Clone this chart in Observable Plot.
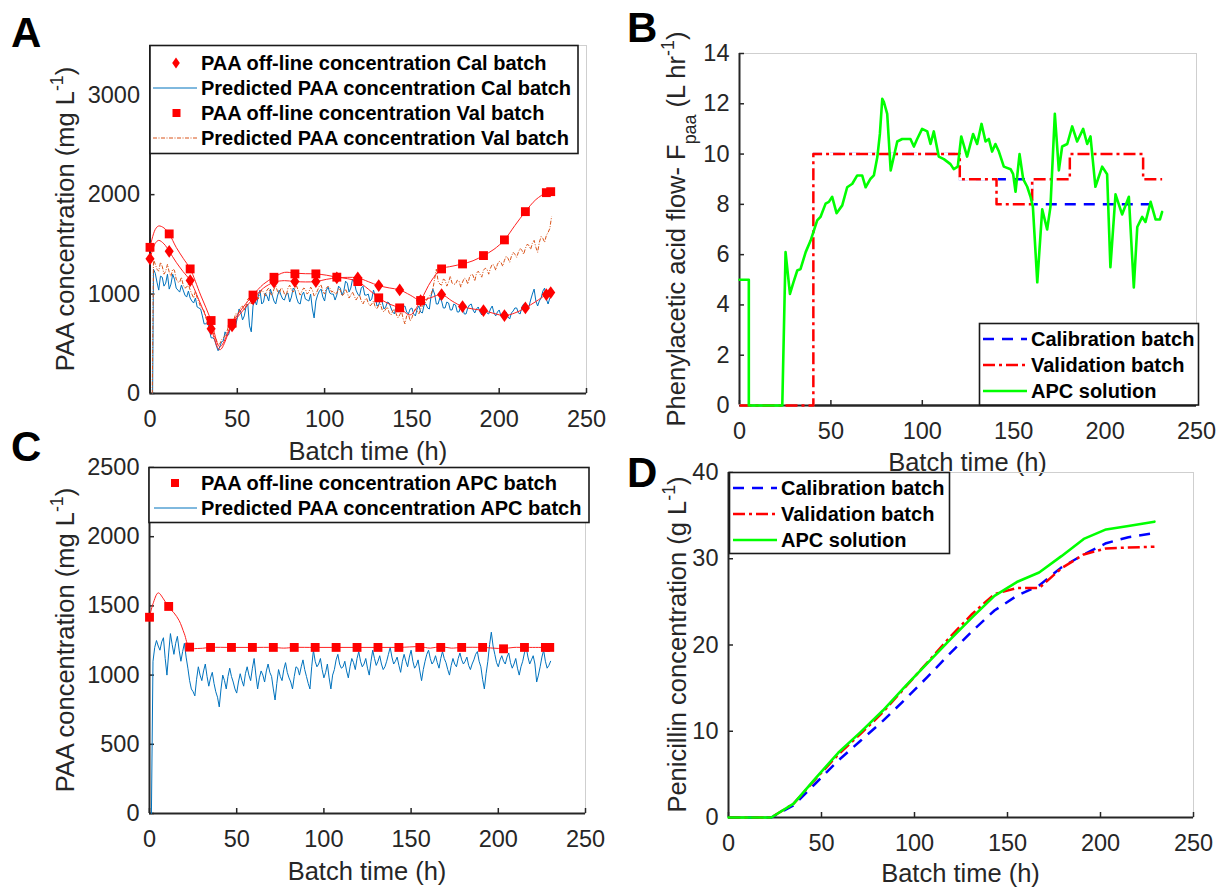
<!DOCTYPE html>
<html><head><meta charset="utf-8">
<script src="https://cdn.jsdelivr.net/npm/d3@7"></script>
<script src="https://cdn.jsdelivr.net/npm/@observablehq/plot@0.6"></script>
<style>
body{margin:0;background:#fff;}
#wrap{position:relative;width:1218px;height:888px;overflow:hidden;background:#fff;}
</style></head><body><div id="wrap"></div>
<script>
const FONT = "'Liberation Sans', Arial, Helvetica, sans-serif";
const INK = "#262626";
const xTicks = [0, 50, 100, 150, 200, 250];

// ---------- Panel A data ----------
const offTimes = [0, 11, 23, 35, 47, 59, 71, 83, 95, 107, 119, 131, 143, 155, 167, 179, 191, 203, 215, 227, 229.5];
const calOfflineA = [1354, 1430, 1136, 650, 680, 951, 1119, 1126, 1126, 1163, 1163, 1085, 1042, 935, 995, 874, 834, 784, 861, 995, 1015];
const valOfflineA = [1470, 1605, 1253, 734, 707, 990, 1169, 1203, 1203, 1170, 1126, 962, 861, 935, 1253, 1303, 1387, 1545, 1829, 2020, 2030];
const calFitT = [0, 3, 5, 8, 11, 15, 19, 23, 29, 35, 40, 47, 53, 59, 65, 71, 77, 83, 89, 95, 101, 107, 113, 119, 125, 131, 137, 143, 149, 155, 161, 167, 173, 179, 185, 191, 197, 203, 209, 215, 221, 227, 229.5];
const calFitV = [1354, 1510, 1540, 1505, 1430, 1320, 1225, 1136, 900, 650, 440, 690, 830, 951, 1060, 1119, 1135, 1126, 1122, 1126, 1148, 1163, 1168, 1163, 1125, 1085, 1062, 1042, 990, 935, 965, 995, 930, 874, 850, 834, 805, 784, 810, 861, 925, 995, 1015];
const valFitT = [0, 3, 5, 8, 11, 15, 19, 23, 29, 35, 40, 47, 53, 59, 65, 71, 77, 83, 89, 95, 101, 107, 113, 119, 125, 131, 137, 143, 149, 155, 161, 167, 173, 179, 185, 191, 197, 203, 209, 215, 221, 227, 229.5];
const valFitV = [1470, 1650, 1685, 1665, 1605, 1470, 1360, 1253, 990, 734, 470, 707, 860, 990, 1100, 1169, 1218, 1210, 1205, 1203, 1190, 1170, 1155, 1126, 1050, 962, 900, 861, 790, 935, 1130, 1253, 1280, 1303, 1335, 1387, 1450, 1545, 1690, 1829, 1950, 2020, 2030];
// predicted (soft-sensor) series: values at even hours (t = 2..230) and odd hours (t = 3..229)
const predStartA = 1.5;
const predCalAEven = [
1250,1120,1180,1080,1200,1100,1150,1040,1090,990,
1030,930,960,860,780,700,640,560,480,470,
530,580,660,700,760,820,780,900,620,940,
980,900,1010,930,990,900,1040,950,1000,920,
1060,960,900,1020,940,1000,760,990,1050,930,
1070,1000,940,1080,990,1130,1020,1150,1040,980,
1080,990,930,1040,880,950,850,920,860,800,
900,840,880,800,860,780,880,810,900,850,
1050,900,960,860,920,840,900,820,880,800,
860,900,810,870,790,850,800,880,780,840,
760,820,750,830,860,800,900,850,940,1050,
880,960,1060,900,980];
const predCalAOdd = [
1210,1040,1170,1110,1050,1200,1060,1020,1040,970,
960,910,870,850,700,720,560,540,430,520,
620,590,740,680,850,740,870,680,880,890,
1040,920,980,1050,930,980,990,940,1010,970,
1040,910,990,950,930,850,930,1030,970,1040,
1010,1000,990,1060,1030,1110,1060,1120,1000,1060,
990,1000,950,980,890,920,870,910,820,880,
850,870,820,850,800,850,820,890,860,980,
1000,900,930,860,910,840,890,820,870,800,
890,840,850,820,830,810,850,810,820,780,
800,770,810,860,810,870,900,870,1000,930,
930,1030,950,960];
const predValAEven = [
1350,1250,1320,1200,1300,1180,1240,1120,1170,1060,
1100,1000,1030,920,850,760,700,620,540,500,
560,620,700,740,800,870,840,950,900,1000,
950,1040,980,1060,990,1080,1000,1050,980,1090,
1020,1080,990,1060,1000,1070,980,1040,1090,1000,
1080,1020,1000,1060,980,1050,960,1020,940,990,
900,960,880,930,850,900,820,870,790,850,
760,830,700,800,760,850,800,880,920,980,
1050,1250,1100,1150,1080,1180,1100,1140,1070,1160,
1100,1200,1130,1230,1170,1260,1200,1300,1240,1330,
1280,1380,1320,1420,1370,1460,1400,1500,1450,1540,
1420,1580,1520,1620,1780];
const predValAOdd = [
1300,1230,1280,1230,1220,1250,1150,1120,1090,1070,
1040,960,960,870,830,720,680,570,490,540,
580,680,690,800,820,880,880,960,940,990,
1010,1020,1040,1000,1050,1030,1060,1000,1060,1040,
1060,1030,1030,1050,1020,1040,1000,1080,1030,1060,
1060,1030,1010,1040,1000,1010,990,980,970,930,
940,910,900,870,890,840,850,810,830,800,
790,750,780,730,820,830,850,900,960,1000,
1150,1130,1090,1140,1120,1110,1100,1130,1120,1150,
1170,1190,1210,1200,1240,1250,1260,1290,1300,1320,
1340,1360,1380,1400,1420,1440,1460,1490,1510,1470,
1520,1560,1590,1660];

// ---------- Panel C data ----------
const apcOfflineC = [1418, 1496, 1202, 1200, 1200, 1200, 1200, 1200, 1200, 1200, 1200, 1200, 1200, 1200, 1200, 1200, 1200, 1190, 1200, 1200, 1200];
const apcFitT = [0, 2, 5, 8, 11, 14, 17, 20, 23, 29, 35, 47, 59, 71, 77, 83, 95, 107, 119, 131, 143, 155, 161, 167, 173, 179, 191, 197, 203, 209, 215, 227, 229.5];
const apcFitV = [1420, 1515, 1594, 1551, 1490, 1450, 1394, 1298, 1200, 1193, 1200, 1200, 1200, 1200, 1195, 1200, 1200, 1200, 1200, 1200, 1200, 1205, 1195, 1205, 1195, 1200, 1200, 1195, 1192, 1200, 1200, 1200, 1200];
const predStartC = 1.1;
const predApcCEven = [
1100,1250,1180,1270,1000,1300,1150,1280,1100,1230,
1050,900,850,1060,960,1080,920,1020,880,770,
1000,900,1050,950,870,1010,920,1060,960,1120,
900,1030,950,1080,990,820,1040,960,1090,980,
900,1060,1000,1110,990,900,1180,1060,1120,980,
1080,900,1040,1150,1050,1100,980,1120,1040,1170,
1060,1120,1000,1180,1070,1140,1040,1100,1200,1080,
1130,1020,1150,1060,1180,1050,1110,960,1100,1180,
1080,1140,1050,1170,1090,1000,1120,1060,1160,1080,
1130,1040,1110,1170,1060,900,1100,1310,1150,1060,
1140,1080,1160,1050,1120,1000,1100,1200,1080,1140,
950,1060,1180,1050,1100];
const predApcCOdd = [
1200,1210,1240,1120,1160,1220,1230,1180,1170,1130,
960,880,970,1000,1030,990,980,940,840,900,
960,990,990,900,950,960,1010,1000,1050,1000,
980,1000,1030,1020,900,940,990,1040,1020,950,
990,1050,1060,1040,940,1060,1100,1080,1040,1020,
980,1000,1110,1080,1060,1030,1060,1090,1120,1100,
1080,1050,1100,1120,1100,1080,1060,1150,1130,1100,
1070,1100,1100,1130,1100,1070,1030,1040,1150,1120,
1100,1090,1120,1120,1040,1070,1080,1120,1110,1100,
1070,1080,1150,1100,970,1010,1220,1210,1090,1110,
1100,1130,1090,1080,1050,1060,1160,1130,1110,1080,
1000,1130,1100,1070];

// ---------- Panel B data ----------
const calFlowT = [0, 40.4, 120.5, 160.1, 229.6];
const calFlowV = [0, 10, 9, 8, 8];
const valFlowT = [0, 40.4, 120.5, 140.6, 160.1, 180.7, 220.8, 231.2];
const valFlowV = [0, 10, 9, 8, 9, 10, 9, 9];
const apcFlowT = [0, 5.1, 5.1, 23.4, 25.2, 27.6, 29.5, 31.6, 33.4, 36.2, 38.9, 42.5, 44.3, 47.1, 48.9, 50.7, 53.1, 56.2, 58.9, 61.7, 64.4, 67.1, 69, 71.7, 73.5, 75.4, 76.8, 78.1, 79, 80.8, 82.7, 86.3, 89, 93.5, 95.4, 97.2, 99.9, 102.7, 104.5, 106.3, 109, 111.8, 115.4, 117.2, 119.4, 121.3, 124.5, 127.8, 130, 132.4, 134.6, 136.4, 138.2, 140, 141.9, 144.6, 148.3, 149.7, 151, 153.2, 155.2, 157.4, 159.2, 160.5, 162.9, 165.6, 168.3, 170.1, 172.5, 174.7, 176.5, 179.3, 182, 184.7, 188, 190.2, 192, 194.7, 198.4, 201.1, 202.9, 205.7, 209.3, 213, 215.7, 217.6, 220.3, 222.1, 224.9, 227.6, 230, 231.2];
const apcFlowV = [5, 5, 0, 0, 6.1, 4.44, 4.9, 5.37, 5.43, 6.1, 6.56, 7.36, 7.5, 8.03, 8.1, 8.3, 7.65, 7.96, 8.68, 8.82, 9.15, 9.15, 8.68, 9.02, 9.15, 9.88, 10.8, 12.2, 12.07, 11.6, 9.35, 10.5, 10.6, 10.6, 10.3, 10.6, 11.0, 10.9, 10.4, 10.9, 9.9, 9.8, 9.6, 9.4, 9.5, 10.7, 9.9, 10.8, 10.4, 11.2, 10.5, 10.6, 10.1, 10.4, 10.1, 9.5, 9.4, 9.2, 8.5, 10.0, 9.0, 8.7, 8.3, 7.9, 4.9, 7.8, 7.0, 7.9, 11.6, 9.35, 10.3, 10.4, 11.1, 10.5, 11.0, 10.4, 10.7, 8.7, 9.5, 9.2, 5.5, 8.4, 7.6, 8.3, 4.7, 7.1, 7.5, 7.3, 8.1, 7.4, 7.4, 7.7];

// ---------- Panel D data ----------
const penT = [0, 23, 35, 47, 59, 71, 83, 95, 107, 119, 131, 143, 155, 167, 179, 191, 203, 215, 229];
const penCalT = [0, 23, 35, 47, 59, 71, 83, 95, 107, 119, 131, 143, 155, 167, 179, 191, 203, 215, 227];
const penCal = [0, 0, 1.4, 4.0, 6.6, 8.9, 11.2, 13.7, 16.3, 19.0, 21.6, 24.0, 25.7, 26.9, 29.0, 30.5, 31.8, 32.5, 32.9];
const penVal = [0, 0, 1.6, 4.5, 7.3, 9.7, 12.2, 15.1, 18.0, 20.9, 23.6, 25.9, 26.6, 26.6, 28.9, 30.5, 31.2, 31.3, 31.4];
const penApc = [0, 0, 1.6, 4.6, 7.5, 9.9, 12.4, 15.2, 17.9, 20.6, 23.2, 25.7, 27.3, 28.4, 30.3, 32.3, 33.4, 33.8, 34.3];

// ---------- texts ----------
const legendA = ["PAA off-line concentration Cal batch", "Predicted PAA concentration Cal batch", "PAA off-line concentration Val batch", "Predicted PAA concentration Val batch"];
const legendC = ["PAA off-line concentration APC batch", "Predicted PAA concentration APC batch"];
const legendBD = ["Calibration batch", "Validation batch", "APC solution"];
const xLabel = "Batch time (h)";

// ---------- helpers ----------
const pairs = (T, V) => T.map((t, i) => ({t, v: V[i]}));
const pred = (t0, E, O) => [{t: t0, v: 0}, ...d3.range(2, 231).map(t => ({t, v: t % 2 === 0 ? E[(t - 2) / 2] : O[(t - 3) / 2]}))];
const wrap = document.getElementById("wrap");
const diamondSym = {draw(ctx, size) { const s = Math.sqrt(size); const h = 0.9 * s, w = 0.64 * s; ctx.moveTo(0, -h); ctx.lineTo(w, 0); ctx.lineTo(0, h); ctx.lineTo(-w, 0); ctx.closePath(); }};

function makePanel(o) {
  const {left, top, width, height, mL, mR, mT, mB, yDomain, yTicks, marks} = o;
  const fw = width - mL - mR, fh = height - mT - mB;
  const svg = Plot.plot({
    width, height, marginLeft: mL, marginRight: mR, marginTop: mT, marginBottom: mB,
    style: {background: "transparent", overflow: "visible", fontFamily: FONT, color: INK},
    x: {domain: [0, 250]},
    y: {domain: yDomain},
    marks: [
      Plot.frame({stroke: "#cfcfcf", strokeWidth: 1}),
      Plot.ruleX([0], {stroke: INK, strokeWidth: 2}),
      Plot.ruleY([yDomain[0]], {stroke: INK, strokeWidth: 2}),
      Plot.ruleX(xTicks, {stroke: INK, strokeWidth: 1.5, insetTop: fh - 5}),
      Plot.ruleY(yTicks, {stroke: INK, strokeWidth: 1.5, insetRight: fw - 5}),
      Plot.axisX({ticks: xTicks, tickFormat: d => String(d), tickSize: 0, tickPadding: 17, fontSize: 23.5, label: null}),
      Plot.axisY({ticks: yTicks, tickFormat: d => String(d), tickSize: 0, tickPadding: 10, fontSize: 23.5, label: null}),
      ...marks
    ]
  });
  svg.style.position = "absolute";
  svg.style.left = left + "px";
  svg.style.top = top + "px";
  wrap.appendChild(svg);
  return svg;
}

function addLabel(svg, x, y, rotate, parts, size) {
  const t = d3.select(svg).append("text")
    .attr("transform", `translate(${x},${y}) rotate(${rotate})`)
    .attr("text-anchor", "middle").attr("font-size", size)
    .attr("font-family", FONT).attr("fill", INK);
  let shift = 0;
  parts.forEach(p => {
    const target = p.sup ? -0.45 * size : p.sub ? 0.42 * size : 0;
    const ts = t.append("tspan").text(p.text).attr("dy", target - shift);
    if (p.sup || p.sub) ts.attr("font-size", size * 0.7);
    shift = target;
  });
}

// ---------- Panel A ----------
const svgA = makePanel({
  left: 0, top: 0, width: 609, height: 460, mL: 149.5, mR: 23, mT: 45, mB: 67,
  yDomain: [0, 3500], yTicks: [0, 1000, 2000, 3000],
  marks: [
    Plot.line(pred(predStartA, predCalAEven, predCalAOdd), {x: "t", y: "v", stroke: "#0072BD", strokeWidth: 1}),
    Plot.line(pred(predStartA - 0.2, predValAEven, predValAOdd), {x: "t", y: "v", stroke: "#D95319", strokeWidth: 1, strokeDasharray: "4,1.5,1,1.5", strokeLinecap: "butt"}),
    Plot.line(pairs(calFitT, calFitV), {x: "t", y: "v", stroke: "#ff2020", strokeWidth: 1, curve: "catmull-rom"}),
    Plot.line(pairs(valFitT, valFitV), {x: "t", y: "v", stroke: "#ff2020", strokeWidth: 1, curve: "catmull-rom"}),
    Plot.dot(pairs(offTimes, calOfflineA), {x: "t", y: "v", symbol: diamondSym, r: 4, fill: "#ff0000", stroke: "none"}),
    Plot.dot(pairs(offTimes, valOfflineA), {x: "t", y: "v", symbol: "square", r: 5, fill: "#ff0000", stroke: "none"})
  ]
});
addLabel(svgA, 74, 219, -90, [{text: "PAA concentration (mg L"}, {text: "-1", sup: true}, {text: ")"}], 25.5);
addLabel(svgA, 367.8, 460, 0, [{text: xLabel}], 25.5);

// ---------- Panel C ----------
const svgC = makePanel({
  left: 0, top: 460, width: 609, height: 428, mL: 149, mR: 24, mT: 7, mB: 75,
  yDomain: [0, 2500], yTicks: [0, 500, 1000, 1500, 2000, 2500],
  marks: [
    Plot.line(pred(predStartC, predApcCEven, predApcCOdd), {x: "t", y: "v", stroke: "#0072BD", strokeWidth: 1}),
    Plot.line(pairs(apcFitT, apcFitV), {x: "t", y: "v", stroke: "#ff2020", strokeWidth: 1, curve: "catmull-rom"}),
    Plot.dot(pairs(offTimes, apcOfflineC), {x: "t", y: "v", symbol: "square", r: 5, fill: "#ff0000", stroke: "none"})
  ]
});
addLabel(svgC, 74, 180, -90, [{text: "PAA concentration (mg L"}, {text: "-1", sup: true}, {text: ")"}], 25.5);
addLabel(svgC, 367, 420, 0, [{text: xLabel}], 25.5);

// ---------- Panel B ----------
const svgB = makePanel({
  left: 609, top: 0, width: 609, height: 470, mL: 130, mR: 22, mT: 53, mB: 65,
  yDomain: [0, 14], yTicks: [0, 2, 4, 6, 8, 10, 12, 14],
  marks: [
    Plot.line(pairs(calFlowT, calFlowV), {x: "t", y: "v", curve: "step-after", stroke: "#0000ff", strokeWidth: 2.5, strokeDasharray: "11,8", strokeLinecap: "butt"}),
    Plot.line(pairs(valFlowT, valFlowV), {x: "t", y: "v", curve: "step-after", stroke: "#ffffff", strokeWidth: 3.2}),
    Plot.ruleY([0], {stroke: INK, strokeWidth: 2}),
    Plot.line(pairs(valFlowT, valFlowV), {x: "t", y: "v", curve: "step-after", stroke: "#ff0000", strokeWidth: 2.5, strokeDasharray: "12,4,3,4", strokeLinecap: "butt"}),
    Plot.line(pairs(apcFlowT, apcFlowV), {x: "t", y: "v", stroke: "#00ff00", strokeWidth: 2.6})
  ]
});
addLabel(svgB, 76, 229, -90, [{text: "Phenylacetic acid flow- F"}, {text: "paa", sub: true}, {text: " (L hr"}, {text: "-1", sup: true}, {text: ")"}], 25.5);
addLabel(svgB, 358.5, 471, 0, [{text: xLabel}], 25.5);

// ---------- Panel D ----------
const svgD = makePanel({
  left: 609, top: 470, width: 609, height: 418, mL: 119, mR: 25, mT: 2, mB: 71,
  yDomain: [0, 40], yTicks: [0, 10, 20, 30, 40],
  marks: [
    Plot.line(pairs(penCalT, penCal), {x: "t", y: "v", stroke: "#0000ff", strokeWidth: 2.5, strokeDasharray: "11,8", strokeLinecap: "butt"}),
    Plot.line(pairs(penT, penVal), {x: "t", y: "v", stroke: "#ff0000", strokeWidth: 2.5, strokeDasharray: "12,4,3,4", strokeLinecap: "butt"}),
    Plot.line(pairs(penT, penApc), {x: "t", y: "v", stroke: "#00ff00", strokeWidth: 2.6})
  ]
});
addLabel(svgD, 77, 174.5, -90, [{text: "Penicillin concentration (g L"}, {text: "-1", sup: true}, {text: ")"}], 25.5);
addLabel(svgD, 351.5, 412, 0, [{text: xLabel}], 25.5);

// ---------- overlay: legends and panel letters ----------
const ov = d3.select(wrap).append("svg").attr("width", 1218).attr("height", 888)
  .style("position", "absolute").style("left", "0px").style("top", "0px")
  .style("font-family", FONT).style("overflow", "visible");

function legend(box, labels, samples, textX, baselines) {
  ov.append("rect").attr("x", box[0]).attr("y", box[1]).attr("width", box[2]).attr("height", box[3])
    .attr("fill", "#fff").attr("stroke", "#1a1a1a").attr("stroke-width", 1.6);
  labels.forEach((lab, i) => {
    const s = samples[i], cy = baselines[i] - 7;
    if (s.type === "line") {
      ov.append("line").attr("x1", s.x1).attr("x2", s.x2).attr("y1", cy).attr("y2", cy)
        .attr("stroke", s.stroke).attr("stroke-width", s.w).attr("stroke-dasharray", s.dash || null);
    } else {
      ov.append("path").attr("d", d3.symbol(s.symbol, s.size)()).attr("transform", `translate(${s.x},${cy})`).attr("fill", "#ff0000");
    }
    ov.append("text").attr("x", textX).attr("y", baselines[i]).attr("font-size", 20).attr("font-weight", "bold").attr("fill", "#000").text(lab);
  });
}
legend([150, 45.5, 428, 108], legendA, [
  {type: "sym", symbol: diamondSym, size: 36, x: 176},
  {type: "line", x1: 153, x2: 197, stroke: "#0072BD", w: 1},
  {type: "sym", symbol: d3.symbolSquare, size: 64, x: 176.5},
  {type: "line", x1: 153, x2: 197, stroke: "#D95319", w: 1, dash: "4,1.5,1,1.5"}
], 201, [70, 95, 120, 145]);
legend([149, 467.5, 440, 55], legendC, [
  {type: "sym", symbol: d3.symbolSquare, size: 64, x: 175},
  {type: "line", x1: 154, x2: 197, stroke: "#0072BD", w: 1}
], 201, [490, 515]);
const bdSamples = (x1, x2) => [
  {type: "line", x1, x2, stroke: "#0000ff", w: 2.5, dash: "11,8"},
  {type: "line", x1, x2, stroke: "#ff0000", w: 2.5, dash: "12,4,3,4"},
  {type: "line", x1, x2, stroke: "#00ff00", w: 2.6}
];
legend([979.5, 323.5, 219, 81.5], legendBD, bdSamples(983, 1027), 1031, [346, 372, 398]);
legend([729.5, 472.5, 220, 81], legendBD, bdSamples(733, 777), 781, [495, 521, 547]);

[["A", 11, 47], ["B", 627, 42], ["C", 11, 461], ["D", 627, 487]].forEach(([l, x, y]) => {
  ov.append("text").attr("x", x).attr("y", y).attr("font-size", 42).attr("font-weight", "bold").attr("fill", "#000").text(l);
});
</script></body></html>
